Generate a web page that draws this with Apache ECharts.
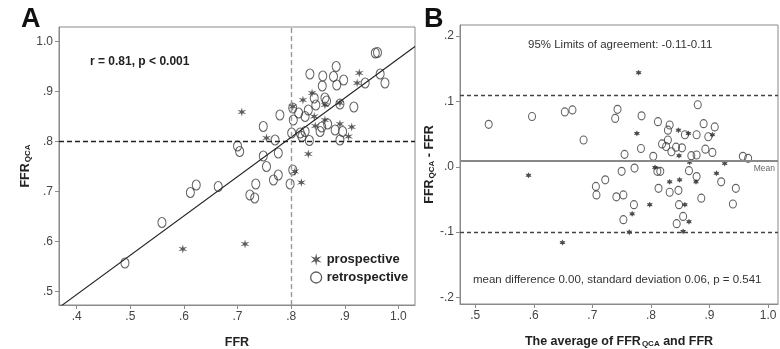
<!DOCTYPE html>
<html>
<head>
<meta charset="utf-8">
<script src="https://cdn.jsdelivr.net/npm/echarts@6/dist/echarts.min.js"></script>
<style>
  html, body { margin: 0; padding: 0; background: #fff; }
  #chart { width: 780px; height: 349px; }
</style>
</head>
<body>
<div id="chart"></div>
<script>
// Panel A: FFR vs FFR_QCA  [FFR, FFR_QCA]
var retroA = [
    [0.490, 0.557], [0.559, 0.638], [0.612, 0.698], [0.623, 0.713], [0.664, 0.710],
    [0.700, 0.791], [0.704, 0.780], [0.723, 0.693], [0.732, 0.687], [0.734, 0.715],
    [0.748, 0.830], [0.748, 0.771], [0.754, 0.750], [0.770, 0.803], [0.767, 0.723],
    [0.776, 0.733], [0.776, 0.777], [0.779, 0.853], [0.798, 0.715], [0.803, 0.743],
    [0.801, 0.817], [0.803, 0.867], [0.804, 0.843], [0.814, 0.857], [0.817, 0.817],
    [0.820, 0.810], [0.826, 0.820], [0.826, 0.850], [0.832, 0.863], [0.835, 0.935],
    [0.834, 0.802], [0.843, 0.887], [0.846, 0.873], [0.854, 0.820], [0.857, 0.829],
    [0.858, 0.911], [0.859, 0.931], [0.863, 0.887], [0.866, 0.881], [0.868, 0.835],
    [0.879, 0.930], [0.882, 0.823], [0.884, 0.950], [0.885, 0.913], [0.891, 0.875],
    [0.891, 0.803], [0.896, 0.820], [0.898, 0.923], [0.917, 0.869], [0.938, 0.917],
    [0.957, 0.977], [0.961, 0.978], [0.966, 0.935], [0.975, 0.917]
];
var prospA = [
    [0.708, 0.859], [0.598, 0.585], [0.714, 0.595], [0.832, 0.775], [0.819, 0.718],
    [0.807, 0.740], [0.927, 0.937], [0.913, 0.829], [0.907, 0.810], [0.891, 0.835],
    [0.891, 0.877], [0.843, 0.850], [0.822, 0.883], [0.839, 0.897], [0.863, 0.843],
    [0.845, 0.831], [0.754, 0.807], [0.803, 0.870], [0.923, 0.917], [0.863, 0.873]
];
var fitA = [[0.367, 0.468], [1.031, 0.990]];
var cutoffA = 0.8;

// Panel B: Bland-Altman  [mean of both, difference]
var retroB = [
    [0.523, 0.065], [0.597, 0.077], [0.653, 0.084], [0.666, 0.087], [0.685, 0.041],
    [0.706, -0.030], [0.707, -0.043], [0.722, -0.020], [0.739, 0.074], [0.743, 0.088],
    [0.741, -0.046], [0.750, -0.007], [0.753, -0.043], [0.753, -0.081], [0.755, 0.019],
    [0.772, -0.002], [0.771, -0.058], [0.783, 0.028], [0.784, 0.078], [0.804, 0.016],
    [0.812, 0.069], [0.811, -0.007], [0.813, -0.033], [0.816, -0.007], [0.819, 0.035],
    [0.826, 0.031], [0.829, 0.041], [0.829, 0.056], [0.832, 0.064], [0.832, -0.039],
    [0.835, 0.023], [0.843, 0.030], [0.847, -0.036], [0.844, -0.087], [0.848, -0.058],
    [0.853, 0.029], [0.855, -0.076], [0.858, 0.049], [0.865, -0.006], [0.869, 0.017],
    [0.878, 0.018], [0.878, -0.015], [0.878, 0.049], [0.880, 0.095], [0.886, -0.048],
    [0.890, 0.066], [0.893, 0.027], [0.898, 0.046], [0.905, 0.022], [0.909, 0.061],
    [0.920, -0.023], [0.940, -0.057], [0.945, -0.033], [0.957, 0.016], [0.966, 0.013]
];
var prospB = [
    [0.591, -0.013], [0.649, -0.116], [0.779, 0.144], [0.776, 0.051], [0.768, -0.072],
    [0.763, -0.100], [0.798, -0.058], [0.807, -0.001], [0.832, -0.023], [0.847, 0.056],
    [0.848, 0.017], [0.849, -0.020], [0.858, -0.058], [0.855, -0.099], [0.865, -0.084],
    [0.864, 0.051], [0.877, -0.023], [0.866, 0.007], [0.905, 0.049], [0.912, -0.010],
    [0.926, 0.005]
];
var limitsB = [0.112, -0.103];
var meanB = 0.005;

var ticksAx = [0.4, 0.5, 0.6, 0.7, 0.8, 0.9, 1.0];
var ticksAy = [0.5, 0.6, 0.7, 0.8, 0.9, 1.0];
var ticksBx = [0.5, 0.6, 0.7, 0.8, 0.9, 1.0];
var ticksBy = [-0.2, -0.1, 0, 0.1, 0.2];

var FONT = '"Liberation Sans", Arial, sans-serif';

// SPSS style labels: .4, -.1, 1.0
function fmt(v) {
    return Math.abs(v) >= 1 ? v.toFixed(1) : v.toFixed(1).replace('0.', '.');
}

// star / asterisk drawn as a filled polygon
function starPath(n, rOut, rIn) {
    var pts = [];
    for (var i = 0; i < n * 2; i++) {
        var r = i % 2 === 0 ? rOut : rIn;
        var a = Math.PI * i / n - Math.PI / 2;
        pts.push((50 + r * Math.cos(a)).toFixed(1) + ',' + (50 + r * Math.sin(a)).toFixed(1));
    }
    return 'path://M' + pts.join(' L') + ' Z';
}
var STAR = starPath(6, 50, 16);
var STAR_B = starPath(6, 50, 26);

function axisCfg(gridIndex, min, max, ticks, extra) {
    var cfg = {
        type: 'value',
        gridIndex: gridIndex,
        min: min,
        max: max,
        axisLine: { show: true, onZero: false, lineStyle: { color: '#8a8a8a', width: 1 } },
        axisTick: { show: true, customValues: ticks, length: 4, lineStyle: { color: '#8a8a8a' } },
        axisLabel: {
            customValues: ticks, formatter: fmt, color: '#444',
            fontSize: 12, fontFamily: FONT, margin: 6
        },
        splitLine: { show: false }
    };
    return Object.assign(cfg, extra);
}

var nameRich = {
    a: { fontSize: 12.5, fontWeight: 'bold', color: '#222', fontFamily: FONT },
    b: { fontSize: 8, fontWeight: 'bold', color: '#222', fontFamily: FONT, padding: [4, 0, 0, 1] }
};

var hollow = { color: 'rgba(0,0,0,0)', borderColor: '#3a3a3a', borderWidth: 1.1 };

var chart = echarts.init(document.getElementById('chart'));

var option = {
    animation: false,
    grid: [
        { left: 59, top: 27, width: 356, height: 278, show: true, borderColor: '#8a8a8a', borderWidth: 1, outerBoundsMode: 'none' },
        { left: 460, top: 25, width: 318, height: 279, show: true, borderColor: '#8a8a8a', borderWidth: 1, outerBoundsMode: 'none' }
    ],
    xAxis: [
        axisCfg(0, 0.367, 1.031, ticksAx, {
            name: 'FFR', nameLocation: 'middle', nameGap: 31,
            nameTextStyle: { fontSize: 12.5, fontWeight: 'bold', color: '#222', fontFamily: FONT }
        }),
        axisCfg(1, 0.474, 1.017, ticksBx, {
            name: '{a|The average of FFR}{b|QCA}{a| and FFR}', nameLocation: 'middle', nameGap: 31,
            nameTextStyle: { rich: nameRich }
        })
    ],
    yAxis: [
        axisCfg(0, 0.473, 1.029, ticksAy, {
            name: '{a|FFR}{b|QCA}', nameLocation: 'middle', nameGap: 27,
            nameTextStyle: { rich: nameRich }
        }),
        axisCfg(1, -0.21, 0.217, ticksBy, {
            name: '{a|FFR}{b|QCA}{a| - FFR}', nameLocation: 'middle', nameGap: 19,
            nameTextStyle: { rich: nameRich }
        })
    ],
    legend: {
        left: 305, top: 248, orient: 'vertical', itemGap: 5,
        itemWidth: 11, itemHeight: 13,
        textStyle: { fontSize: 13, fontWeight: 'bold', color: '#222', fontFamily: FONT },
        data: [
            { name: 'prospective', icon: STAR, itemStyle: { color: '#333' } },
            { name: 'retrospective', icon: 'circle', itemStyle: { color: '#fff', borderColor: '#333', borderWidth: 1.3 } }
        ]
    },
    series: [
        {
            name: 'fit', type: 'line', xAxisIndex: 0, yAxisIndex: 0, data: fitA,
            symbol: 'none', silent: true,
            lineStyle: { color: '#222', width: 1.1 },
            markLine: {
                symbol: 'none', silent: true, label: { show: false },
                data: [
                    { yAxis: cutoffA, lineStyle: { color: '#222', type: [5, 3], width: 1.4 } },
                    { xAxis: cutoffA, lineStyle: { color: '#999', type: [5, 3], width: 1.4 } }
                ]
            }
        },
        {
            name: 'retrospective', type: 'scatter', xAxisIndex: 0, yAxisIndex: 0, data: retroA,
            symbol: 'circle', symbolSize: [8, 10],
            itemStyle: hollow
        },
        {
            name: 'prospective', type: 'scatter', xAxisIndex: 0, yAxisIndex: 0, data: prospA,
            symbol: STAR, symbolSize: 9,
            itemStyle: { color: '#333' }
        },
        {
            name: 'limits', type: 'line', xAxisIndex: 1, yAxisIndex: 1, data: [],
            markLine: {
                symbol: 'none', silent: true,
                data: [
                    { yAxis: limitsB[0], label: { show: false }, lineStyle: { color: '#444', type: [4, 3], width: 1.4 } },
                    { yAxis: limitsB[1], label: { show: false }, lineStyle: { color: '#444', type: [4, 3], width: 1.4 } },
                    {
                        yAxis: meanB, lineStyle: { color: '#888', type: 'solid', width: 2 },
                        label: {
                            show: true, position: 'insideEndBottom', formatter: 'Mean',
                            fontSize: 8.5, color: '#666', fontFamily: FONT, distance: [3, 4]
                        }
                    }
                ]
            }
        },
        {
            name: 'retrospective', type: 'scatter', xAxisIndex: 1, yAxisIndex: 1, data: retroB,
            symbol: 'circle', symbolSize: [7, 8],
            itemStyle: hollow
        },
        {
            name: 'prospective', type: 'scatter', xAxisIndex: 1, yAxisIndex: 1, data: prospB,
            symbol: STAR_B, symbolSize: 6,
            itemStyle: { color: '#222' }
        }
    ],
    graphic: [
        { type: 'text', left: 21, top: 6, style: { text: 'A', fontSize: 27, fontWeight: 'bold', fill: '#111', fontFamily: FONT } },
        { type: 'text', left: 424, top: 6, style: { text: 'B', fontSize: 27, fontWeight: 'bold', fill: '#111', fontFamily: FONT } },
        { type: 'text', left: 90, top: 56, style: { text: 'r = 0.81, p < 0.001', fontSize: 12, fontWeight: 'bold', fill: '#222', fontFamily: FONT } },
        { type: 'text', left: 528, top: 39, style: { text: '95% Limits of agreement: -0.11-0.11', fontSize: 11.5, fill: '#333', fontFamily: FONT } },
        { type: 'text', left: 473, top: 274, style: { text: 'mean difference 0.00, standard deviation 0.06, p = 0.541', fontSize: 11.5, fill: '#333', fontFamily: FONT } }
    ]
};

chart.setOption(option);
</script>
</body>
</html>
